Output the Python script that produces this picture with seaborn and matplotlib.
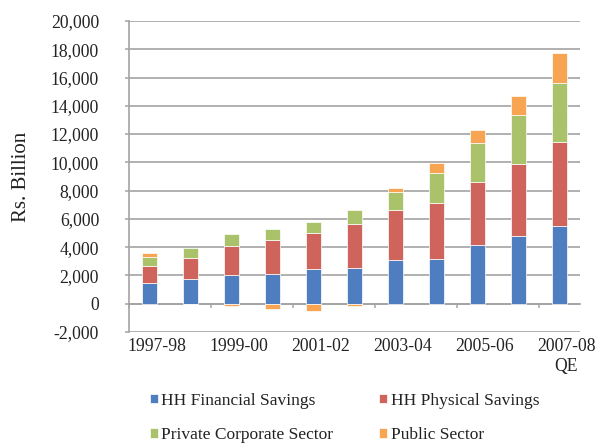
import numpy as np
import pandas as pd
import matplotlib
matplotlib.use("Agg")
import matplotlib.pyplot as plt
import seaborn as sns

# ---- data (Rs. Billion) ----
years = ["1997-98", "1998-99", "1999-00", "2000-01", "2001-02", "2002-03",
         "2003-04", "2004-05", "2005-06", "2006-07", "2007-08 QE"]
hh_financial = [1460, 1745, 2026, 2118, 2450, 2520, 3070, 3155, 4165, 4790, 5485]
hh_physical = [1175, 1503, 2069, 2379, 2540, 3130, 3590, 3975, 4435, 5115, 5975]
private_corporate = [683, 706, 870, 820, 800, 965, 1210, 2120, 2790, 3415, 4165]
public_sector = [259, -40, -190, -400, -495, -165, 320, 680, 870, 1386, 2145]

series_names = ["HH Financial Savings", "HH Physical Savings",
                "Private Corporate Sector", "Public Sector"]
series_colors = ["#4F7EC0", "#CF645C", "#AAC36B", "#F8A553"]
x_tick_labels = ["1997-98", "1999-00", "2001-02", "2003-04", "2005-06", "2007-08\nQE"]
y_ticks = list(range(-2000, 20001, 2000))

sns.set_style("white")
plt.rcParams["font.family"] = ["Liberation Serif", "DejaVu Serif"]

fig = plt.figure(figsize=(5.99, 4.43), dpi=100)
ax = fig.add_axes([129 / 599, 1 - 332 / 443, (580 - 129) / 599, (332 - 21) / 443])

grid_c = "#A3A3A3"
text_c = "#222222"

pos_cum = np.zeros(len(years))
neg_cum = np.zeros(len(years))
for name, vals, col in zip(series_names,
                           [hh_financial, hh_physical, private_corporate, public_sector],
                           series_colors):
    v = np.asarray(vals, dtype=float)
    bottom = np.where(v >= 0, pos_cum, neg_cum)
    sns.barplot(x=years, y=v, bottom=bottom, color=col, saturation=1,
                width=0.39, errorbar=None, label=name, ax=ax,
                edgecolor="white", linewidth=0.5, zorder=3)
    pos_cum = pos_cum + np.where(v >= 0, v, 0)
    neg_cum = neg_cum + np.where(v < 0, v, 0)

if ax.get_legend() is not None:
    ax.get_legend().remove()

ax.set_xlim(-0.5, len(years) - 0.5)
ax.set_ylim(-2000, 20000)
ax.set_yticks(y_ticks)
ax.set_yticklabels([f"{t:,}" for t in y_ticks], fontsize=12.7)
ax.set_ylabel("Rs. Billion", fontsize=15, labelpad=14, color=text_c)
ax.set_xlabel("")

# horizontal gridlines at every y tick
for t in y_ticks:
    ax.axhline(t, color=grid_c, linewidth=1.2, zorder=2.9)

for s in ["top", "right"]:
    ax.spines[s].set_visible(False)
ax.spines["left"].set_color(grid_c)
ax.spines["left"].set_linewidth(1.2)
ax.spines["bottom"].set_position(("data", 0))
ax.spines["bottom"].set_color(grid_c)
ax.spines["bottom"].set_linewidth(1.2)

ax.tick_params(axis="y", which="major", direction="out", length=3, width=1.1,
               color=grid_c, pad=18.5, labelcolor=text_c, left=True)

major_pos = [i + 0.17 for i in range(0, len(years), 2)]
ax.set_xticks(major_pos)
ax.set_xticklabels(x_tick_labels, fontsize=12.7, color=text_c)
ax.set_xticks([i - 0.5 for i in range(0, len(years), 2)], minor=True)
ax.tick_params(axis="x", which="major", length=0, pad=25)
ax.tick_params(axis="x", which="minor", direction="out", length=3, width=1.1,
               color=grid_c, bottom=True)

handles, labels = ax.get_legend_handles_labels()
hmap = dict(zip(labels, handles))
order = [series_names[0], series_names[2], series_names[1], series_names[3]]
leg = fig.legend([hmap[n] for n in order], order, ncol=2, frameon=False,
                 loc="upper left", bbox_to_anchor=(150 / 599, 1 - 393 / 443),
                 fontsize=12.5, handlelength=0.45, handleheight=0.45,
                 handletextpad=0.2, columnspacing=2.65, labelspacing=1.05,
                 borderpad=0, borderaxespad=0)
for t in leg.get_texts():
    t.set_color(text_c)

fig.savefig("out.png", dpi=100)
